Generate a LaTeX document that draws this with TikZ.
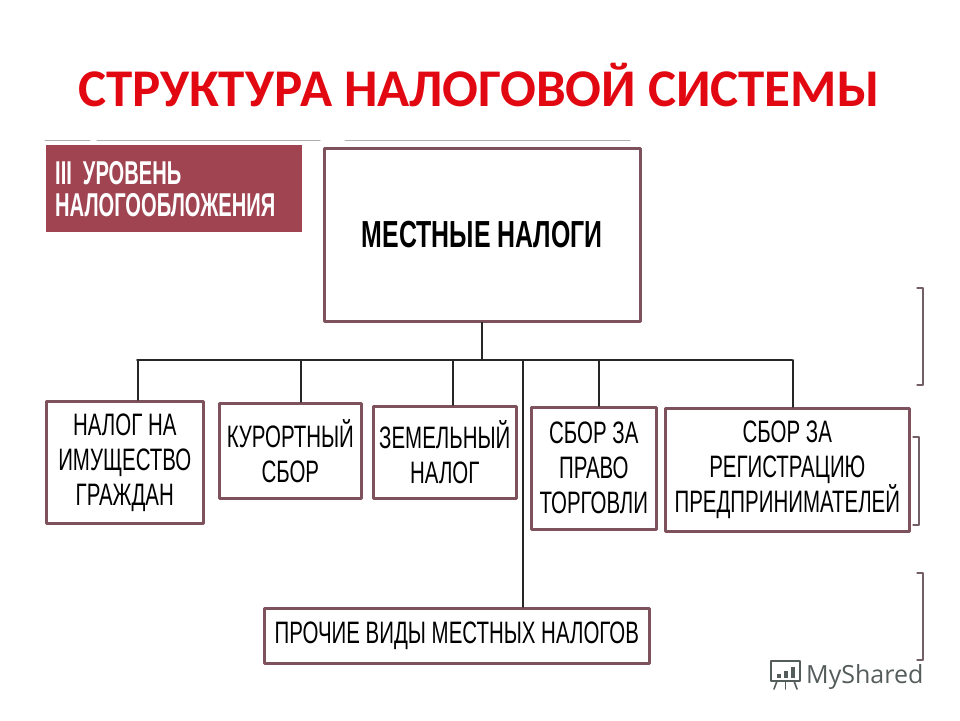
\documentclass[tikz,border=0pt]{standalone}
\usepackage{fontspec}
\setmainfont{Liberation Sans}
\newfontfamily\titlefont{Carlito}
\newfontfamily\narrowfont{Liberation Sans}[FakeStretch=0.66]
\newfontfamily\levelfont{Liberation Sans}[FakeStretch=0.61]
\newfontfamily\logofont{Open Sans}
\definecolor{titlered}{RGB}{226,8,18}
\definecolor{boxline}{RGB}{125,82,92}
\definecolor{levelfill}{RGB}{160,68,82}
\definecolor{scangray}{RGB}{175,172,172}
\definecolor{markgray}{RGB}{115,95,100}
\definecolor{logogray}{RGB}{85,92,92}

\tikzset{
	taxbox/.style={draw=boxline,line width=2.6pt,fill=white,inner sep=0pt,anchor=north west,align=center,font=\narrowfont\fontsize{31}{35}\selectfont},
	titletext/.style={anchor=base,inner sep=0pt,font=\titlefont\bfseries\fontsize{53}{55}\selectfont},
	conn/.style={line width=1.7pt,color=black!85},
	scanmark/.style={line width=1.3pt,color=markgray}
}

\begin{document}
\begin{tikzpicture}[line cap=round,line join=round,x=1pt,y=-1pt]
	\useasboundingbox (0,0) rectangle (960,720);
	\fill[white] (0,0) rectangle (960,720);
	\node[titletext,text=titlered] (title) at (479,106) {СТРУКТУРА НАЛОГОВОЙ СИСТЕМЫ};
	\foreach \a/\b in {45/90,97/320,345/630}
	\draw[color=scangray,line width=1pt] (\a,140) -- (\b,140);
	\foreach \x/\t/\b in {923/288/385,919/437/525,923/573/660}
	\draw[scanmark] (\x-6,\t) -- (\x,\t) -- (\x,\b) -- (\x-6,\b);
	\node[fill=levelfill,anchor=north west,inner xsep=9pt,inner ysep=0pt,minimum height=87,text width=238,align=left,text=white,font=\levelfont\bfseries\fontsize{33}{32}\selectfont] (level) at (46,145) {III УРОВЕНЬ\\НАЛОГООБЛОЖЕНИЯ};
	\node[taxbox,minimum width=316,minimum height=173,font=\narrowfont\bfseries\fontsize{37.7}{40}\selectfont] (main) at (323,147) {МЕСТНЫЕ НАЛОГИ};
	\node[taxbox,minimum width=157,minimum height=122] (imu) at (45,400) {НАЛОГ НА\\ИМУЩЕСТВО\\ГРАЖДАН};
	\node[taxbox,minimum width=142,minimum height=95] (kur) at (218,402) {КУРОРТНЫЙ\\СБОР};
	\node[taxbox,minimum width=143,minimum height=92] (zem) at (372,405) {ЗЕМЕЛЬНЫЙ\\НАЛОГ};
	\node[taxbox,minimum width=125,minimum height=122] (torg) at (530,406) {СБОР ЗА\\ПРАВО\\ТОРГОВЛИ};
	\node[taxbox,minimum width=244,minimum height=123] (reg) at (664,407) {СБОР ЗА\\РЕГИСТРАЦИЮ\\ПРЕДПРИНИМАТЕЛЕЙ};
	\node[taxbox,minimum width=385,minimum height=55] (other) at (263,607) {ПРОЧИЕ ВИДЫ МЕСТНЫХ НАЛОГОВ};
	\coordinate (busL) at (137,360);
	\coordinate (busR) at (792,360);
	\draw[conn] (main.south) -- (main.south |- busL);
	\draw[conn] (busL) -- (busR);
	\foreach \n/\d in {imu/13.5,kur/11,zem/8.5,torg/5.5,reg/6}
	\draw[conn] ([xshift=\d pt]\n.north) -- ([xshift=\d pt]\n.north |- busL);
	\draw[conn] ([xshift=66.5pt]other.north) -- ([xshift=66.5pt]other.north |- busL);
	\node[anchor=base west,inner sep=0pt,text=logogray,font=\logofont\fontsize{25}{25}\selectfont] (logo) at (806,683) {MyShared};
	\draw[logogray,line width=1.6pt] (771,661) rectangle (800,681);
	\foreach \x/\h in {777/4,784/7,791/11}
	\fill[logogray] (\x,678) rectangle (\x+4,678-\h);
	\foreach \a/\b in {777/774,785.5/785.5,794/797}
	\draw[logogray,line width=1.6pt] (\a,681) -- (\b,689);
\end{tikzpicture}
\end{document}
